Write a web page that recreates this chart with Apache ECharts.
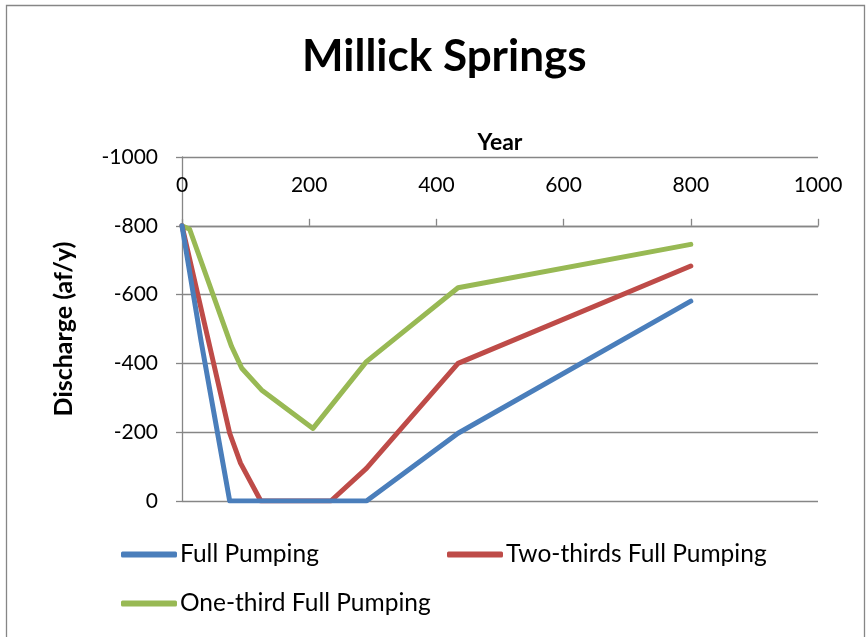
<!DOCTYPE html>
<html>
<head>
<meta charset="utf-8">
<title>Millick Springs</title>
<script src="https://cdn.jsdelivr.net/npm/echarts@6/dist/echarts.min.js"></script>
<style>
  html, body { margin: 0; padding: 0; background: #ffffff; }
  #chart { width: 867px; height: 637px; }
</style>
</head>
<body>
<div id="chart"></div>
<script>
// Spring discharge (af/y, negative = outflow) by year for three pumping scenarios
const fullYears = [0, 30, 75, 290, 434, 800];
const fullDischarge = [-800, -465, 0, 0, -197, -581];

const twoThirdsYears = [0, 75, 92, 124, 234, 290, 434, 800];
const twoThirdsDischarge = [-800, -197, -110, 0, 0, -95, -400, -683];

const oneThirdYears = [0, 12, 78, 94, 125, 206, 290, 434, 800];
const oneThirdDischarge = [-800, -790, -449, -386, -323, -211, -405, -620, -746];

const seriesNames = ['Full Pumping', 'Two-thirds Full Pumping', 'One-third Full Pumping'];
const seriesColors = ['#4A7EBB', '#BE4B48', '#98B954'];

const xTicks = { min: 0, max: 1000, interval: 200 };
const yTicks = { min: -1000, max: 0, interval: 200 };

const FONT = 'Lato, "Open Sans", sans-serif';
const GRID_GRAY = '#868686';

function pairs(xs, ys) {
  return xs.map((x, i) => [x, ys[i]]);
}

const seriesData = [
  pairs(fullYears, fullDischarge),
  pairs(twoThirdsYears, twoThirdsDischarge),
  pairs(oneThirdYears, oneThirdDischarge)
];

const chart = echarts.init(document.getElementById('chart'), null, { renderer: 'canvas' });

// Height of the plot area, used to put the year axis on the -800 line
const gridTop = 157, gridBottom = 136;
const plotHeight = 637 - gridTop - gridBottom;
const xAxisShift = plotHeight * (-800 - yTicks.min) / (yTicks.max - yTicks.min);

const legendSpots = [
  { left: 121, top: 542 },
  { left: 447, top: 542 },
  { left: 121, top: 591 }
];

const plainNumber = v => String(v);

chart.setOption({
  animation: false,
  backgroundColor: '#ffffff',
  textStyle: { fontFamily: FONT },
  title: {
    text: 'Millick Springs',
    left: 297,
    top: 30,
    textStyle: { fontFamily: FONT, fontSize: 44, fontWeight: 'bold', color: '#000' }
  },
  graphic: [{
    type: 'rect',
    shape: { x: 6.5, y: 5.5, width: 858, height: 700 },
    style: { fill: 'none', stroke: GRID_GRAY, lineWidth: 1.3 },
    silent: true
  }],
  legend: seriesNames.map((name, i) => ({
    data: [{ name: name, icon: 'roundRect' }],
    left: legendSpots[i].left,
    top: legendSpots[i].top,
    itemWidth: 56,
    itemHeight: 6,
    padding: 0,
    textStyle: { fontFamily: FONT, fontSize: 24.5, color: '#000', padding: [0, 0, 0, -2] }
  })),
  grid: { left: 182, right: 49, top: gridTop, bottom: gridBottom, containLabel: false },
  xAxis: {
    type: 'value',
    position: 'top',
    offset: -xAxisShift,
    min: xTicks.min,
    max: xTicks.max,
    interval: xTicks.interval,
    name: 'Year',
    nameLocation: 'middle',
    nameGap: 72,
    nameTextStyle: { fontFamily: FONT, fontSize: 23, fontWeight: 'bold', color: '#000' },
    axisLine: { show: true, onZero: false, lineStyle: { color: GRID_GRAY, width: 1.3 } },
    axisTick: { show: true, length: 7, lineStyle: { color: GRID_GRAY, width: 1.3 } },
    axisLabel: { margin: 30, fontFamily: FONT, fontSize: 21, color: '#000', formatter: plainNumber },
    splitLine: { show: false }
  },
  yAxis: {
    type: 'value',
    inverse: true,
    min: yTicks.min,
    max: yTicks.max,
    interval: yTicks.interval,
    name: 'Discharge (af/y)',
    nameLocation: 'middle',
    nameRotate: 90,
    nameGap: 106,
    nameTextStyle: { fontFamily: FONT, fontSize: 25, fontWeight: 'bold', color: '#000' },
    axisLine: { show: true, onZero: false, lineStyle: { color: GRID_GRAY, width: 1.3 } },
    axisTick: { show: true, length: 6, lineStyle: { color: GRID_GRAY, width: 1.3 } },
    axisLabel: { margin: 24, fontFamily: FONT, fontSize: 21, color: '#000', formatter: plainNumber },
    splitLine: { show: true, lineStyle: { color: GRID_GRAY, width: 1.3 } }
  },
  series: seriesNames.map((name, i) => ({
    name: name,
    type: 'line',
    data: seriesData[i],
    symbol: 'none',
    color: seriesColors[i],
    lineStyle: { width: 5, color: seriesColors[i], cap: 'round', join: 'round' },
    z: 3 + (2 - i)
  }))
});
</script>
</body>
</html>
